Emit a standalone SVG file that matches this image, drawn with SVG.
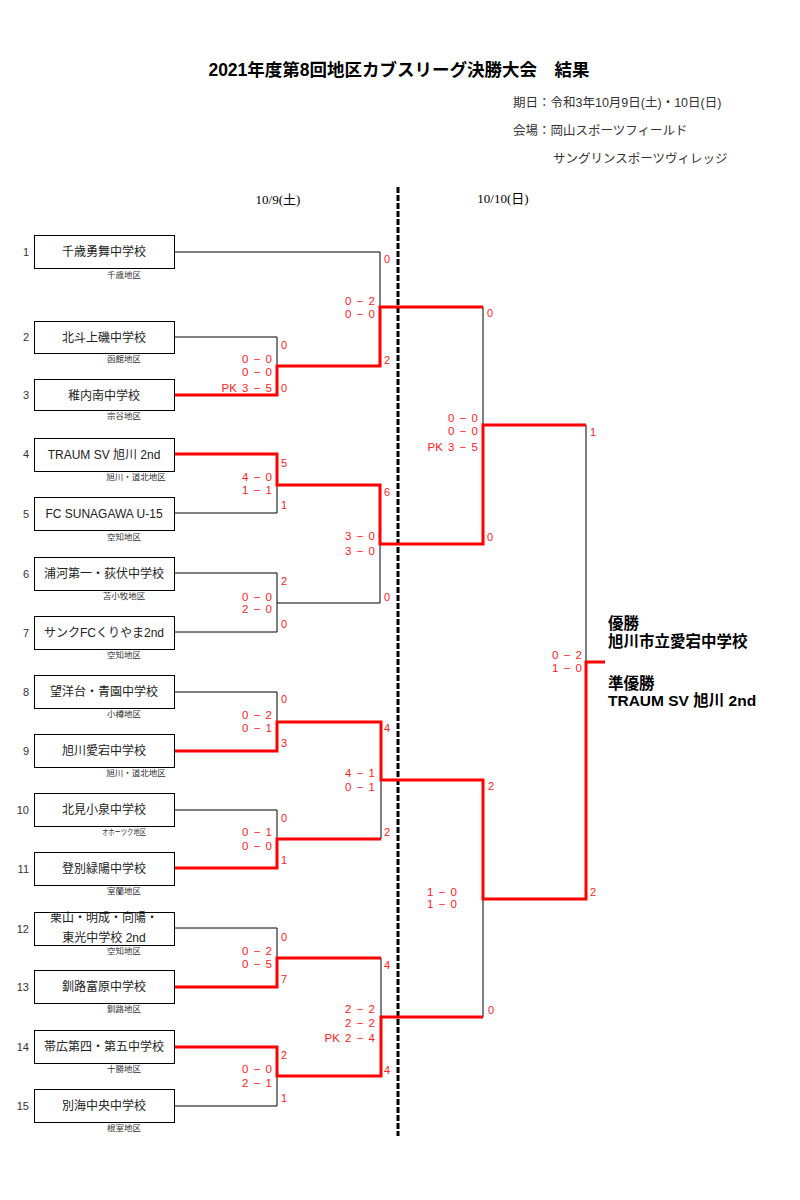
<svg xmlns="http://www.w3.org/2000/svg" width="800" height="1200" viewBox="0 0 800 1200">
<style>
text{font-family:"Liberation Sans","Noto Sans CJK JP",sans-serif}
.t{font-size:17.5px;font-weight:bold;fill:#000}
.h{font-size:12.5px;fill:#333}
.d{font-family:"Liberation Serif","Noto Sans CJK JP",serif;font-size:13px;fill:#000}
.n{font-size:11px;fill:#333;text-anchor:end}
.nm{font-size:12px;fill:#222;text-anchor:middle}
.rg{font-size:8.5px;fill:#333;text-anchor:middle}
.s{font-size:11.5px;fill:#ff2020;text-anchor:end;word-spacing:2px}
.r{font-size:11px;fill:#ff2020}
.w{font-size:15.5px;font-weight:bold;fill:#000}
.box{fill:#fff;stroke:#000;stroke-width:1}
.k{fill:none;stroke:#000;stroke-width:1}
.red{fill:none;stroke:#ff0000;stroke-width:3;stroke-linejoin:miter}
</style>
<rect width="800" height="1200" fill="#fff"/>
<g id="header">
<text class="t" x="399" y="76" text-anchor="middle">2021年度第8回地区カブスリーグ決勝大会　結果</text>
<text class="h" x="513" y="107">期日：令和3年10月9日(土)・10日(日)</text>
<text class="h" x="513" y="135">会場：岡山スポーツフィールド</text>
<text class="h" x="553" y="163">サングリンスポーツヴィレッジ</text>
<text class="d" x="278" y="204" text-anchor="middle">10/9(土)</text>
<text class="d" x="503" y="203" text-anchor="middle">10/10(日)</text>
</g>
<line id="day-divider" x1="398" y1="187" x2="398" y2="1136" stroke="#000" stroke-width="3" stroke-dasharray="6 2"/>
<g id="connectors">
<path class="k" d="M175,252 H380 V307"/>
<path class="k" d="M175,337 H277 V366"/>
<path class="k" d="M175,513 H277 V485"/>
<path class="k" d="M175,573 H277 V632 H175 M277,603 H380 V544"/>
<path class="k" d="M483,307 V425"/>
<path class="k" d="M586,425 V662"/>
<path class="k" d="M175,692 H277 V722"/>
<path class="k" d="M175,810 H277 V839"/>
<path class="k" d="M381,780 V839"/>
<path class="k" d="M175,928 H277 V958"/>
<path class="k" d="M381,958 V1017"/>
<path class="k" d="M175,1106 H277 V1076"/>
<path class="k" d="M483,899 V1017"/>
<path class="red" d="M175,395 H277 V366 H380 V307 H483"/>
<path class="red" d="M175,454 H277 V485 H380 V544 H483 V425 H586"/>
<path class="red" d="M175,751 H277 V722 H381 V780 H483 V899 H586 V662 H605"/>
<path class="red" d="M175,868 H277 V839 H381"/>
<path class="red" d="M175,987 H277 V958 H381"/>
<path class="red" d="M175,1047 H277 V1076 H381 V1017 H483"/>
</g>
<g id="team1"><text class="n" x="29" y="256">1</text><rect class="box" x="34.5" y="235.5" width="140" height="33"/><text class="nm" x="104" y="256">千歳勇舞中学校</text><text class="rg" x="124" y="278">千歳地区</text></g>
<g id="team2"><text class="n" x="29" y="341">2</text><rect class="box" x="34.5" y="321.5" width="140" height="32"/><text class="nm" x="104" y="342">北斗上磯中学校</text><text class="rg" x="124" y="362">函館地区</text></g>
<g id="team3"><text class="n" x="29" y="399">3</text><rect class="box" x="34.5" y="379.5" width="140" height="31"/><text class="nm" x="104" y="400">稚内南中学校</text><text class="rg" x="124" y="419">宗谷地区</text></g>
<g id="team4"><text class="n" x="29" y="458">4</text><rect class="box" x="34.5" y="438.5" width="140" height="33"/><text class="nm" x="104" y="459">TRAUM SV 旭川 2nd</text><text class="rg" x="136" y="480">旭川・道北地区</text></g>
<g id="team5"><text class="n" x="29" y="518">5</text><rect class="box" x="34.5" y="497.5" width="140" height="33"/><text class="nm" x="104" y="518">FC SUNAGAWA U-15</text><text class="rg" x="124" y="540">空知地区</text></g>
<g id="team6"><text class="n" x="29" y="578">6</text><rect class="box" x="34.5" y="557.5" width="140" height="33"/><text class="nm" x="104" y="578">浦河第一・荻伏中学校</text><text class="rg" x="124" y="599">苫小牧地区</text></g>
<g id="team7"><text class="n" x="29" y="637">7</text><rect class="box" x="34.5" y="616.5" width="140" height="33"/><text class="nm" x="104" y="637">サンクFCくりやま2nd</text><text class="rg" x="124" y="658">空知地区</text></g>
<g id="team8"><text class="n" x="29" y="696">8</text><rect class="box" x="34.5" y="675.5" width="140" height="33"/><text class="nm" x="104" y="696">望洋台・青園中学校</text><text class="rg" x="124" y="717">小樽地区</text></g>
<g id="team9"><text class="n" x="29" y="755">9</text><rect class="box" x="34.5" y="734.5" width="140" height="33"/><text class="nm" x="104" y="755">旭川愛宕中学校</text><text class="rg" x="136" y="776">旭川・道北地区</text></g>
<g id="team10"><text class="n" x="29" y="814">10</text><rect class="box" x="34.5" y="793.5" width="140" height="33"/><text class="nm" x="104" y="814">北見小泉中学校</text><text class="rg" x="124" y="835" textLength="44" lengthAdjust="spacingAndGlyphs">オホーツク地区</text></g>
<g id="team11"><text class="n" x="29" y="873">11</text><rect class="box" x="34.5" y="852.5" width="140" height="33"/><text class="nm" x="104" y="873">登別緑陽中学校</text><text class="rg" x="124" y="894">室蘭地区</text></g>
<g id="team12"><text class="n" x="29" y="933">12</text><rect class="box" x="34.5" y="912.5" width="140" height="33"/><text class="nm" x="104" y="922">栗山・明成・向陽・</text><text class="nm" x="104" y="942">東光中学校 2nd</text><text class="rg" x="124" y="954">空知地区</text></g>
<g id="team13"><text class="n" x="29" y="991">13</text><rect class="box" x="34.5" y="970.5" width="140" height="33"/><text class="nm" x="104" y="991">釧路富原中学校</text><text class="rg" x="124" y="1012">釧路地区</text></g>
<g id="team14"><text class="n" x="29" y="1051">14</text><rect class="box" x="34.5" y="1030.5" width="140" height="33"/><text class="nm" x="104" y="1051">帯広第四・第五中学校</text><text class="rg" x="124" y="1072">十勝地区</text></g>
<g id="team15"><text class="n" x="29" y="1110">15</text><rect class="box" x="34.5" y="1089.5" width="140" height="33"/><text class="nm" x="104" y="1110">別海中央中学校</text><text class="rg" x="124" y="1131">根室地区</text></g>
<g id="scores">
<text class="r" x="281" y="349">0</text><text class="s" x="272" y="363">0 − 0</text><text class="s" x="272" y="376">0 − 0</text><text class="s" x="272" y="392">PK 3 − 5</text><text class="r" x="281" y="392">0</text>
<text class="r" x="281" y="467">5</text><text class="s" x="272" y="481">4 − 0</text><text class="s" x="272" y="494">1 − 1</text><text class="r" x="281" y="509">1</text>
<text class="r" x="281" y="585">2</text><text class="s" x="272" y="601">0 − 0</text><text class="s" x="272" y="613">2 − 0</text><text class="r" x="281" y="628">0</text>
<text class="r" x="384" y="263">0</text><text class="s" x="375" y="305">0 − 2</text><text class="s" x="375" y="318">0 − 0</text><text class="r" x="384" y="364">2</text>
<text class="r" x="384" y="496">6</text><text class="s" x="375" y="540">3 − 0</text><text class="s" x="375" y="555">3 − 0</text><text class="r" x="384" y="601">0</text>
<text class="r" x="487" y="317">0</text><text class="s" x="478" y="422">0 − 0</text><text class="s" x="478" y="435">0 − 0</text><text class="s" x="478" y="451">PK 3 − 5</text><text class="r" x="487" y="541">0</text>
<text class="r" x="590" y="436">1</text><text class="s" x="582" y="659">0 − 2</text><text class="s" x="582" y="672">1 − 0</text><text class="r" x="590" y="896">2</text>
<text class="r" x="488" y="790">2</text><text class="s" x="457" y="896">1 − 0</text><text class="s" x="457" y="908">1 − 0</text><text class="r" x="488" y="1014">0</text>
<text class="r" x="281" y="703">0</text><text class="s" x="272" y="719">0 − 2</text><text class="s" x="272" y="732">0 − 1</text><text class="r" x="281" y="747">3</text>
<text class="r" x="281" y="822">0</text><text class="s" x="272" y="836">0 − 1</text><text class="s" x="272" y="850">0 − 0</text><text class="r" x="281" y="864">1</text>
<text class="r" x="281" y="941">0</text><text class="s" x="272" y="955">0 − 2</text><text class="s" x="272" y="968">0 − 5</text><text class="r" x="281" y="983">7</text>
<text class="r" x="281" y="1059">2</text><text class="s" x="272" y="1073">0 − 0</text><text class="s" x="272" y="1087">2 − 1</text><text class="r" x="281" y="1102">1</text>
<text class="r" x="384" y="732">4</text><text class="s" x="375" y="777">4 − 1</text><text class="s" x="375" y="791">0 − 1</text><text class="r" x="384" y="836">2</text>
<text class="r" x="384" y="969">4</text><text class="s" x="375" y="1013">2 − 2</text><text class="s" x="375" y="1027">2 − 2</text><text class="s" x="375" y="1042">PK 2 − 4</text><text class="r" x="384" y="1074">4</text>
</g>
<g id="result">
<text class="w" x="608" y="629">優勝</text>
<text class="w" x="608" y="647">旭川市立愛宕中学校</text>
<text class="w" x="608" y="689">準優勝</text>
<text class="w" x="608" y="706">TRAUM SV 旭川 2nd</text>
</g>
</svg>
